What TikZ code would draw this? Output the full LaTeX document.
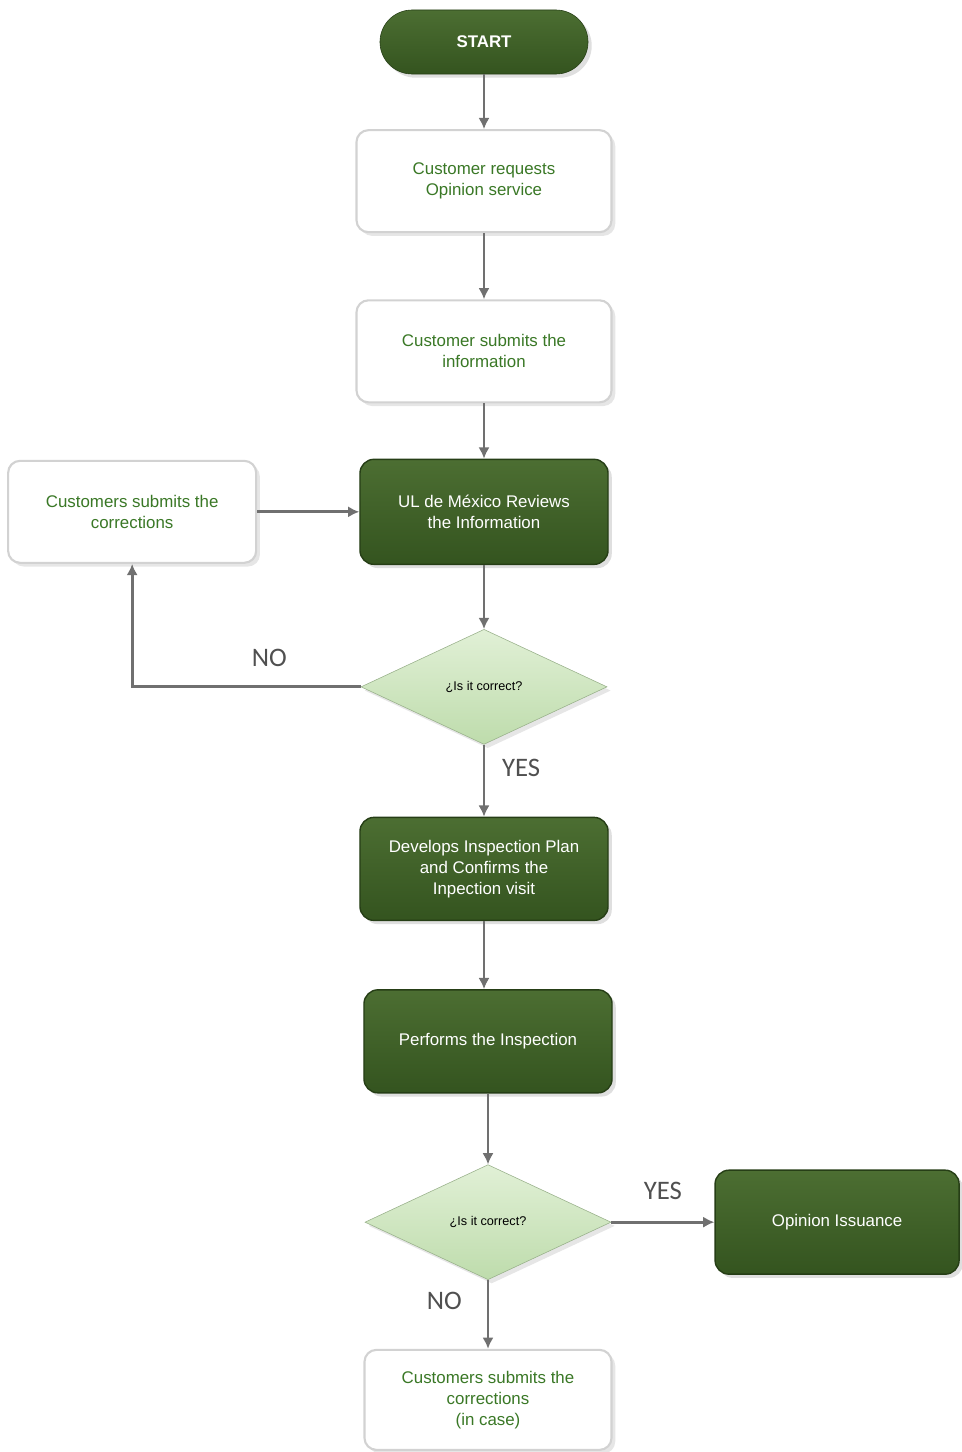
\documentclass[tikz,border=0pt]{standalone}
\usepackage{fontspec}
\setmainfont{Liberation Sans}
\newfontfamily\yesnofont{Carlito}
\usepackage{xcolor}
\usepackage{tikz}
\usetikzlibrary{calc}
\usetikzlibrary{positioning}
\usetikzlibrary{arrows.meta}
\usetikzlibrary{shapes}
\usetikzlibrary{shadows}

\definecolor{darkgreen}{RGB}{52,84,31}
\definecolor{darkgreentop}{RGB}{76,110,50}
\definecolor{greenborder}{RGB}{38,62,22}
\definecolor{lightgreen}{RGB}{190,220,172}
\definecolor{lightgreentop}{RGB}{225,240,214}
\definecolor{textgreen}{RGB}{58,120,38}
\definecolor{arrowgray}{RGB}{112,112,112}
\definecolor{labelgray}{RGB}{80,80,80}

\begin{document}
\begin{tikzpicture}[x=0.025cm,y=-0.025cm,
      font=\fontsize{12}{15}\selectfont,
      start style/.style={rectangle,rounded corners=0.8cm,draw=greenborder,
        top color=darkgreentop,bottom color=darkgreen,text=white,
        font=\fontsize{12}{15}\selectfont\bfseries,minimum width=5.2cm,
        minimum height=1.6cm,drop shadow={opacity=0.25}},
      white style/.style={rectangle,rounded corners=0.3cm,draw=gray!35,
        line width=1.5pt,fill=white,text=textgreen,align=center,
        minimum width=6.375cm,minimum height=2.55cm,drop shadow={opacity=0.2}},
      green style/.style={rectangle,rounded corners=0.35cm,draw=greenborder,
        line width=1pt,top color=darkgreentop,bottom color=darkgreen,
        text=white,align=center,minimum width=6.2cm,minimum height=2.6cm,
        drop shadow={opacity=0.25}},
      check style/.style={diamond,draw=lightgreen!80!black,
        top color=lightgreentop,bottom color=lightgreen,inner sep=0pt,
        minimum width=6.15cm,minimum height=2.875cm,
        font=\fontsize{9}{11}\selectfont,drop shadow={opacity=0.2}},
      yesno style/.style={text=labelgray,font=\yesnofont\fontsize{19}{22}\selectfont},
      flow/.style={-{Latex[length=2.8mm,width=2.8mm]},draw=arrowgray,line width=2pt}
      ]

      \useasboundingbox (0,0) rectangle (961,1452);

      \node[start style] (start) at (484,42) {START};
      \node[white style, below=1.37cm of start] (req) {Customer requests\\Opinion service};
      \node[white style, below=1.65cm of req] (submit) {Customer submits the\\information};
      \node[green style, below=1.38cm of submit, minimum height=2.625cm] (review) {UL de México Reviews\\the Information};
      \node[white style, left=2.55cm of review, minimum width=6.2cm] (corr) {Customers submits the\\corrections};

      \node[check style, below=1.6cm of review] (check) {¿Is it correct?};

      \draw[flow] (start) -- (req);
      \draw[flow] (req) -- (submit);
      \draw[flow] (submit) -- (review);
      \draw[flow] (corr) -- (review);
      \draw[flow] (review) -- (check);
      \draw[flow] (check.west) -| node[yesno style, pos=0.2, above=0.35cm] {NO} (corr.south);

      \node[green style, below=1.8cm of check, minimum height=2.575cm] (plan) {Develops Inspection Plan\\and Confirms the\\Inpection visit};
      \node[green style, below=1.7cm of plan, xshift=0.1cm, minimum height=2.575cm] (perform) {Performs the Inspection};

      \draw[flow] (check) -- node[yesno style, pos=0.33, right=0.3cm] {YES} (plan);
      \draw[flow] (plan.south) -- (plan.south |- perform.north);

      \node[check style, below=1.77cm of perform] (check2) {¿Is it correct?};
      \node[green style, right=2.575cm of check2, minimum width=6.1cm] (issue) {Opinion Issuance};
      \node[white style, below=1.72cm of check2, minimum width=6.175cm, minimum height=2.5cm] (last) {Customers submits the\\corrections\\(in case)};

      \draw[flow] (perform) -- (check2);
      \draw[flow] (check2) -- node[yesno style, midway, above=0.4cm] {YES} (issue);
      \draw[flow] (check2) -- node[yesno style, pos=0.3, left=0.5cm] {NO} (last);

    \end{tikzpicture}
\end{document}
